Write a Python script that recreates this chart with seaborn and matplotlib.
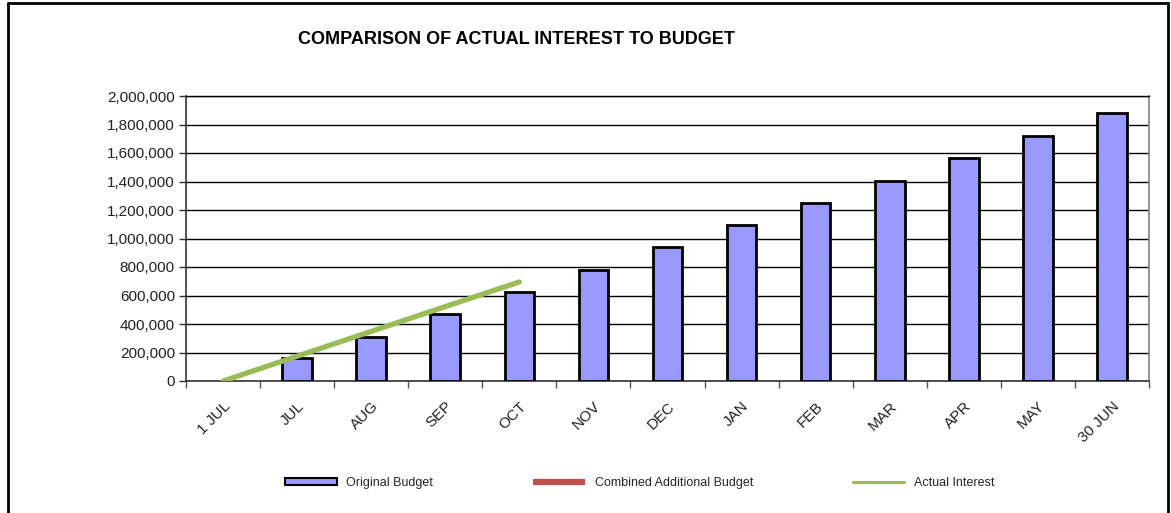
import numpy as np
import pandas as pd
import matplotlib
matplotlib.use("Agg")
import matplotlib.pyplot as plt
from matplotlib.lines import Line2D
from matplotlib.patches import Patch
import seaborn as sns

categories = ["1 JUL", "JUL", "AUG", "SEP", "OCT", "NOV", "DEC", "JAN",
              "FEB", "MAR", "APR", "MAY", "30 JUN"]
original_budget = [np.nan, 159000, 311000, 470000, 624000, 777000, 940000,
                   1092000, 1251000, 1406000, 1565000, 1719000, 1881000]
actual_interest = [0, 174000, 348000, 522000, 695000]
y_ticks = [0, 200000, 400000, 600000, 800000, 1000000, 1200000, 1400000,
           1600000, 1800000, 2000000]

sns.set_theme(style="white")
plt.rcParams["font.family"] = ["Liberation Sans", "DejaVu Sans"]

W, H = 1171, 513
fig = plt.figure(figsize=(W / 100, H / 100), dpi=100)
ax = fig.add_axes([186 / W, 1 - 381 / H, (1149 - 186) / W, (381 - 96) / H])

df = pd.DataFrame({"cat": categories, "budget": original_budget})
sns.barplot(data=df, x="cat", y="budget", order=categories, color="#9999FF",
            saturation=1, edgecolor="black", linewidth=2, width=0.4, ax=ax,
            zorder=3)

line_df = pd.DataFrame({"pos": np.arange(len(actual_interest)),
                        "val": actual_interest})
sns.lineplot(data=line_df, x="pos", y="val", color="#9BBB59", linewidth=3.8,
             ax=ax, zorder=4, solid_capstyle="round")

ax.set_xlim(-0.5, len(categories) - 0.5)
ax.set_ylim(0, 2000000)
ax.set_yticks(y_ticks)
ax.set_yticklabels([f"{v:,.0f}" for v in y_ticks], fontsize=11, color="#222222")
ax.yaxis.grid(True, color="black", linewidth=1, zorder=0)
ax.set_axisbelow(True)
ax.set_xlabel("")
ax.set_ylabel("")

ax.set_xticks(np.arange(len(categories)))
ax.set_xticklabels(categories, rotation=45, ha="right", va="top",
                   rotation_mode="anchor", fontsize=11, color="#222222")
ax.set_xticks(np.arange(len(categories) + 1) - 0.5, minor=True)
ax.tick_params(axis="x", which="major", length=0, pad=13)
ax.tick_params(axis="x", which="minor", length=5, width=1, color="#555555",
               direction="out", bottom=True)
ax.tick_params(axis="y", which="major", length=5, width=1, color="#333333",
               direction="out", left=True, pad=3)

for side in ["left", "bottom"]:
    ax.spines[side].set_color("#333333")
    ax.spines[side].set_linewidth(1.2)
ax.spines["right"].set_color("#808080")
ax.spines["right"].set_linewidth(1.2)
ax.spines["top"].set_color("black")
ax.spines["top"].set_linewidth(1)

fig.text(517 / W, 1 - 40 / H, "COMPARISON OF ACTUAL INTEREST TO BUDGET",
         ha="center", va="center", fontsize=13, fontweight="bold",
         color="black")

handles = [
    Patch(facecolor="#9999FF", edgecolor="black", linewidth=1.5),
    Line2D([], [], color="#C0504D", linewidth=4.5, solid_capstyle="butt"),
    Line2D([], [], color="#9BBB59", linewidth=2.2),
]
labels = ["Original Budget", "Combined Additional Budget", "Actual Interest"]
fig.legend(handles, labels, loc="center", bbox_to_anchor=(640 / W, 1 - 483 / H),
           ncol=3, frameon=False, fontsize=9, handlelength=4.1,
           handleheight=0.5, handletextpad=0.8, columnspacing=8.0)

# outer frame
frame_kw = dict(color="black", linewidth=2, transform=fig.transFigure)
fig.add_artist(Line2D([8 / W, 1168 / W], [1 - 3 / H, 1 - 3 / H], **frame_kw))
fig.add_artist(Line2D([8 / W, 8 / W], [0, 1 - 3 / H], **frame_kw))
fig.add_artist(Line2D([1168 / W, 1168 / W], [0, 1 - 3 / H], **frame_kw))

fig.savefig("out.png", dpi=100)
